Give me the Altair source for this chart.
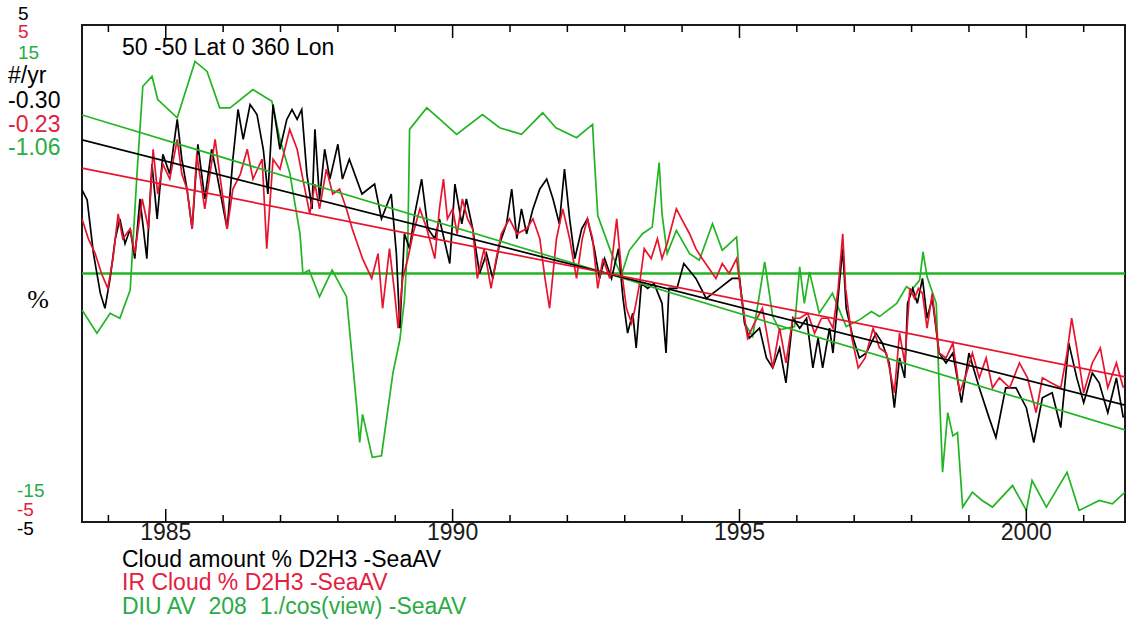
import altair as alt
import pandas as pd

# ---------------- data ----------------
black_t = [1983.54, 1983.63, 1983.74, 1983.86, 1983.94, 1984.03, 1984.12, 1984.2, 1984.29, 1984.38,
           1984.46, 1984.55, 1984.67, 1984.76, 1984.85, 1984.95, 1985.07, 1985.2, 1985.28, 1985.37,
           1985.46, 1985.56, 1985.68, 1985.8, 1985.89, 1986.07, 1986.17, 1986.26, 1986.35, 1986.47,
           1986.59, 1986.7, 1986.78, 1986.87, 1986.99, 1987.11, 1987.2, 1987.29, 1987.37, 1987.46,
           1987.55, 1987.6, 1987.68, 1987.77, 1987.86, 1988.0, 1988.08, 1988.2, 1988.42, 1988.64,
           1988.76, 1988.93, 1989.02, 1989.08, 1989.16, 1989.25, 1989.34, 1989.46, 1989.57, 1989.69,
           1989.77, 1989.95, 1990.04, 1990.16, 1990.24, 1990.35, 1990.47, 1990.59, 1990.7, 1990.82,
           1990.94, 1991.03, 1991.12, 1991.2, 1991.29, 1991.4, 1991.52, 1991.64, 1991.75, 1991.86,
           1991.95, 1992.04, 1992.13, 1992.25, 1992.35, 1992.47, 1992.56, 1992.65, 1992.77, 1992.89,
           1992.97, 1993.05, 1993.14, 1993.2, 1993.29, 1993.4, 1993.51, 1993.65, 1993.72, 1993.77,
           1993.91, 1994.03, 1994.24, 1994.42, 1994.65, 1994.87, 1995.0, 1995.09, 1995.17, 1995.35,
           1995.47, 1995.58, 1995.7, 1995.81, 1995.93, 1996.05, 1996.17, 1996.28, 1996.37, 1996.45,
           1996.57, 1996.63, 1996.75, 1996.8, 1996.86, 1996.98, 1997.09, 1997.21, 1997.38, 1997.49,
           1997.61, 1997.7, 1997.79, 1997.88, 1997.93, 1998.02, 1998.1, 1998.19, 1998.27, 1998.36,
           1998.48, 1998.6, 1998.72, 1998.87, 1999.0, 1999.18, 1999.35, 1999.47, 1999.64, 1999.82,
           2000.0, 2000.13, 2000.28, 2000.45, 2000.6, 2000.74, 2000.88, 2001.0, 2001.15, 2001.27,
           2001.42, 2001.57, 2001.69]
black_v = [1.68, 1.48, 0.4, -0.4, -0.7, -0.1, 0.7, 1.1, 0.6, 0.9,
           0.3, 1.5, 0.3, 2.2, 1.1, 2.4, 2.0, 3.1, 2.3, 1.7,
           0.9, 2.6, 1.5, 2.5, 2.0, 0.9, 2.3, 3.3, 2.7, 3.4,
           3.2, 2.5, 1.6, 3.4, 2.5, 3.1, 3.3, 3.1, 3.3, 2.0,
           1.3, 2.9, 1.5, 2.5, 1.9, 2.6, 1.9, 2.3, 1.6, 1.8,
           1.1, 1.6, 0.4, -1.1, 0.8, 0.5, 1.2, 1.9, 0.9, 0.7,
           1.1, 0.2, 1.8, 1.0, 1.5, 0.9, 0.0, 0.4, -0.1, 0.6,
           1.0, 1.7, 0.7, 1.3, 0.8, 1.3, 1.7, 1.9, 1.5, 1.0,
           2.1, 1.1, 0.3, 0.9, 1.1, 0.5, -0.1, 0.3, -0.1, 0.5,
           -0.5, -1.2, -0.8, -1.5, -0.2, -0.3, -0.2, -0.6, -1.6, -0.3,
           -0.3, 0.2, -0.1, -0.5, -0.3, -0.1, -0.1, -1.0, -1.3, -1.1,
           -1.7, -1.9, -1.5, -2.2, -0.9, -1.1, -0.9, -1.9, -1.3, -1.9,
           -1.1, -1.6, -0.1, 0.5, -0.7, -1.3, -1.7, -1.6, -1.2, -1.4,
           -1.8, -2.7, -1.7, -2.1, -0.6, -0.3, -0.6, -0.1, -0.9, -0.5,
           -1.6, -1.8, -1.6, -2.6, -1.6, -2.3, -2.9, -3.3, -2.3, -2.3,
           -2.7, -3.4, -2.5, -2.4, -3.1, -1.4, -2.1, -2.6, -2.0, -2.2,
           -2.8, -2.1, -2.9]

red_t = [1983.54, 1983.65, 1983.77, 1983.88, 1983.99, 1984.08, 1984.17, 1984.25, 1984.38, 1984.46,
         1984.59, 1984.7, 1984.78, 1984.86, 1984.95, 1985.07, 1985.2, 1985.28, 1985.37, 1985.46,
         1985.54, 1985.68, 1985.86, 1985.94, 1986.07, 1986.17, 1986.3, 1986.42, 1986.52, 1986.68,
         1986.76, 1986.87, 1986.99, 1987.16, 1987.29, 1987.39, 1987.51, 1987.6, 1987.68, 1987.8,
         1987.91, 1988.03, 1988.15, 1988.25, 1988.43, 1988.59, 1988.7, 1988.78, 1988.9, 1988.99,
         1989.05, 1989.13, 1989.22, 1989.31, 1989.43, 1989.55, 1989.69, 1989.77, 1989.84, 1989.91,
         1990.0, 1990.08, 1990.17, 1990.26, 1990.35, 1990.43, 1990.55, 1990.67, 1990.76, 1990.85,
         1990.99, 1991.12, 1991.29, 1991.4, 1991.52, 1991.61, 1991.69, 1991.81, 1991.92, 1992.04,
         1992.16, 1992.26, 1992.35, 1992.44, 1992.53, 1992.62, 1992.74, 1992.86, 1992.94, 1993.03,
         1993.12, 1993.18, 1993.26, 1993.34, 1993.46, 1993.57, 1993.65, 1993.74, 1993.83, 1993.9,
         1993.99, 1994.13, 1994.24, 1994.35, 1994.47, 1994.59, 1994.7, 1994.82, 1994.95, 1995.04,
         1995.14, 1995.26, 1995.4, 1995.58, 1995.7, 1995.81, 1995.93, 1996.05, 1996.19, 1996.31,
         1996.43, 1996.54, 1996.63, 1996.72, 1996.8, 1996.85, 1996.96, 1997.07, 1997.19, 1997.33,
         1997.44, 1997.56, 1997.7, 1997.79, 1997.88, 1997.97, 1998.05, 1998.12, 1998.19, 1998.27,
         1998.36, 1998.48, 1998.6, 1998.72, 1998.84, 1998.96, 1999.06, 1999.18, 1999.3, 1999.41,
         1999.53, 1999.71, 1999.88, 2000.02, 2000.17, 2000.28, 2000.43, 2000.6, 2000.71, 2000.79,
         2000.88, 2001.0, 2001.15, 2001.29, 2001.42, 2001.57, 2001.69]
red_v = [1.1, 0.7, 0.4, 0.0, -0.3, 0.3, 1.2, 0.7, 0.9, 0.4,
         1.5, 0.9, 2.5, 1.6, 2.2, 1.9, 2.7, 2.0, 1.7, 0.9,
         2.4, 1.3, 2.7, 2.0, 0.9, 1.7, 2.0, 2.5, 1.9, 2.3,
         0.5, 2.3, 2.1, 2.9, 2.5, 1.9, 1.2, 1.8, 1.3, 2.1,
         1.6, 1.7, 1.3, 0.9, 0.3, -0.1, 0.4, -0.7, 0.5, -0.4,
         -1.1, -0.1, 0.3, 0.8, 1.3, 0.9, 0.3, 1.3, 1.9, 1.1,
         1.3, 0.8, 1.5, 1.1, 0.9, -0.1, 0.5, -0.3, 0.3, 0.8,
         1.1, 0.8, 0.9, 1.1, 0.7, -0.1, -0.7, 0.7, 1.3, 0.7,
         -0.1, 0.7, 1.1, 0.7, -0.3, 0.3, -0.1, 1.1, 0.1, -0.7,
         -1.0, -0.7, -0.2, 0.5, 0.3, 0.7, 0.3, 0.6, 1.0, 1.3,
         1.1, 0.8, 0.5, 0.3, 0.1, -0.1, 0.2, 0.0, 0.3, -0.5,
         -1.3, -1.0, -0.7, -1.9, -1.1, -1.8, -0.9, -0.9, -0.8, -1.2,
         -0.9, -0.9, -1.1, -0.3, 0.8, -0.3, -1.3, -1.9, -1.7, -1.1,
         -1.5, -1.6, -2.4, -1.2, -1.8, -0.3, -0.5, -0.3, -0.4, -1.1,
         -0.4, -1.6, -1.7, -1.4, -2.4, -2.0, -1.6, -2.1, -1.7, -2.3,
         -2.1, -2.3, -1.8, -2.1, -2.8, -2.1, -2.2, -2.3, -1.6, -0.9,
         -1.5, -2.4, -1.8, -1.5, -2.3, -1.8, -2.3]

green_t = [1983.54, 1983.8, 1984.03, 1984.2, 1984.38, 1984.5, 1984.6, 1984.76, 1984.86, 1985.2,
           1985.51, 1985.72, 1985.94, 1986.12, 1986.52, 1986.85, 1986.99, 1987.16, 1987.34, 1987.39,
           1987.5, 1987.68, 1987.9, 1988.15, 1988.33, 1988.38, 1988.43, 1988.6, 1988.76, 1988.96,
           1989.08, 1989.16, 1989.22, 1989.25, 1989.55, 1989.78, 1990.07, 1990.52, 1990.82, 1991.2,
           1991.57, 1991.8, 1992.16, 1992.44, 1992.46, 1992.53, 1992.77, 1992.94, 1993.08, 1993.31,
           1993.48, 1993.6, 1993.65, 1993.74, 1993.9, 1994.13, 1994.3, 1994.53, 1994.7, 1994.95,
           1995.0, 1995.09, 1995.23, 1995.44, 1995.58, 1995.7, 1995.96, 1996.05, 1996.13, 1996.22,
           1996.39, 1996.62, 1996.86, 1997.09, 1997.3, 1997.44, 1997.74, 1997.91, 1998.0, 1998.14,
           1998.2, 1998.27, 1998.43, 1998.48, 1998.54, 1998.63, 1998.72, 1998.8, 1998.89, 1999.06,
           1999.23, 1999.41, 1999.76, 2000.0, 2000.1, 2000.35, 2000.71, 2000.92, 2001.27, 2001.5,
           2001.72]
green_v = [-2.2, -3.6, -2.4, -2.7, -1.0, 6.1, 11.3, 11.9, 10.5, 9.4,
           12.8, 12.2, 10.0, 10.0, 11.1, 10.4, 8.1, 6.1, 2.4, 0.0,
           0.2, -1.4, 0.2, -1.4, -8.1, -10.2, -8.5, -11.1, -11.0, -6.0,
           -4.0, -1.6, 2.0, 8.7, 10.0, 9.3, 8.4, 9.6, 8.8, 8.4,
           9.7, 8.8, 8.2, 9.0, 7.6, 3.5, 1.2, -0.1, 1.4, 2.4,
           2.8, 6.7, 3.6, 1.2, 2.6, 1.2, 0.8, 3.0, 1.4, 2.2,
           -0.2, -3.0, -3.8, 0.7, -2.6, -3.4, -3.2, 0.4, -1.8, 0.1,
           -2.4, -1.2, -3.2, -2.8, -2.3, -2.6, -1.8, -0.8, -1.0, -0.4,
           1.3, -0.2, -1.8, -6.8, -12.0, -8.4, -9.8, -9.6, -14.1, -13.2,
           -13.7, -14.1, -12.8, -14.3, -12.5, -14.1, -12.0, -14.3, -13.7, -13.9,
           -13.2]

trend_t = [1983.54, 2001.72]
black_trend = [2.69, -2.65]
red_trend = [2.12, -2.08]
green_trend = [9.57, -9.44]

tick_years = list(range(1984, 2002))
label_years = [1985, 1990, 1995, 2000]

left_top_labels = ["5", "5", "15", "#/yr", "-0.30", "-0.23", "-1.06"]
left_bottom_labels = ["-15", "-5", "-5"]
title_text = "50 -50 Lat 0 360 Lon"
legend_texts = ["Cloud amount % D2H3 -SeaAV",
                "IR Cloud % D2H3 -SeaAV",
                "DIU AV\u00a0 208\u00a0 1./cos(view) -SeaAV"]

# ---------------- styling ----------------
BLACK = "#000000"
RED = "#e8142e"
GREEN = "#22b422"
RED_TXT = "#e3213f"
GREEN_TXT = "#2aab45"
FONT = "Liberation Sans"
FS = 23
SMALL = 19
W, H = 1043, 497

xscale = alt.Scale(domain=[trend_t[0], trend_t[1]], nice=False, zero=False)
yscale = alt.Scale(domain=[-5, 5], nice=False, zero=False)


def series(t, v, color, factor=1, width=1.7):
    df = pd.DataFrame({"t": t, "v": v})
    return (alt.Chart(df)
            .transform_calculate(y=f"datum.v / {factor}")
            .mark_line(color=color, strokeWidth=width, clip=True)
            .encode(x=alt.X("t:Q", scale=xscale, axis=None),
                    y=alt.Y("y:Q", scale=yscale, axis=None)))


def label(text, x, y, color, size=FS, font=FONT, align="left"):
    return (alt.Chart(pd.DataFrame({"s": [text]}))
            .mark_text(align=align, baseline="middle", fontSize=size, font=font, color=color)
            .encode(text="s:N", x=alt.value(x), y=alt.value(y)))


zero = (alt.Chart(pd.DataFrame({"v": [0]}))
        .mark_rule(color=GREEN, strokeWidth=2.5)
        .encode(y=alt.Y("v:Q", scale=yscale, axis=None)))

ticks_df = pd.DataFrame({"year": tick_years})
tick_base = alt.Chart(ticks_df).transform_calculate(major="datum.year % 5 == 0")
tx = alt.X("year:Q", scale=xscale, axis=None)
ticks = alt.layer(
    tick_base.transform_filter("!datum.major").mark_rule(color=BLACK, strokeWidth=1.5)
    .encode(x=tx, y=alt.value(H), y2=alt.value(H - 7)),
    tick_base.transform_filter("datum.major").mark_rule(color=BLACK, strokeWidth=1.5)
    .encode(x=tx, y=alt.value(H), y2=alt.value(H - 13)),
    tick_base.transform_filter("!datum.major").mark_rule(color=BLACK, strokeWidth=1.5)
    .encode(x=tx, y=alt.value(0), y2=alt.value(7)),
    tick_base.transform_filter("datum.major").mark_rule(color=BLACK, strokeWidth=1.5)
    .encode(x=tx, y=alt.value(0), y2=alt.value(13)),
)

year_labels = (alt.Chart(pd.DataFrame({"year": label_years}))
               .transform_calculate(lab="format(datum.year, 'd')")
               .mark_text(align="center", baseline="middle", fontSize=FS, font=FONT, color="#1a1a1a")
               .encode(x=alt.X("year:Q", scale=xscale, axis=None),
                       y=alt.value(H + 11), text="lab:N"))

top_colors = [BLACK, RED_TXT, GREEN_TXT, BLACK, BLACK, RED_TXT, GREEN_TXT]
top_x = [-64, -64, -64, -74, -74, -74, -74]
top_y = [-11, 7, 28, 51, 76, 100, 123]
top_size = [SMALL, SMALL, SMALL, FS, FS, FS, FS]
bot_colors = [GREEN_TXT, RED_TXT, BLACK]
bot_y = [466, 485, 504]

texts = [label(s, x, y, c, size=fs)
         for s, x, y, c, fs in zip(left_top_labels, top_x, top_y, top_colors, top_size)]
texts += [label(s, -65, y, c, size=SMALL) for s, y, c in zip(left_bottom_labels, bot_y, bot_colors)]
texts.append(label("%", -44, 275, BLACK, size=26, font="Liberation Serif", align="center"))
texts.append(label(title_text, 40, 23, BLACK))
for s, y, c in zip(legend_texts, [535, 558, 582], [BLACK, RED_TXT, GREEN_TXT]):
    texts.append(label(s, 40, y, c))

chart = alt.layer(
    zero,
    series(green_t, green_v, GREEN, factor=3),
    series(black_t, black_v, BLACK),
    series(red_t, red_v, RED),
    series(trend_t, green_trend, GREEN, factor=3),
    series(trend_t, black_trend, BLACK),
    series(trend_t, red_trend, RED),
    ticks,
    year_labels,
    *texts,
).properties(
    width=W, height=H,
    padding={"left": 82, "top": 25, "right": 1, "bottom": 101},
    autosize=alt.AutoSizeParams(type="none"),
    background="white",
).configure_view(stroke="#1a1a1a", strokeWidth=2)

chart.save("out.html", embed_options={"renderer": "svg", "actions": False})
